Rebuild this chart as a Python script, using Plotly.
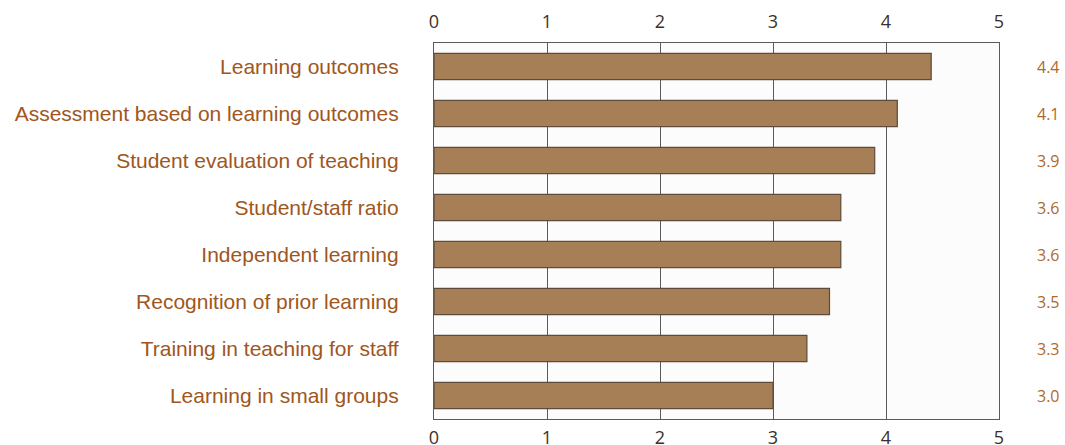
import plotly.graph_objects as go

categories = ["Learning outcomes", "Assessment based on learning outcomes",
              "Student evaluation of teaching", "Student/staff ratio",
              "Independent learning", "Recognition of prior learning",
              "Training in teaching for staff", "Learning in small groups"]
values = [4.4, 4.1, 3.9, 3.6, 3.6, 3.5, 3.3, 3.0]
value_labels = ["4.4", "4.1", "3.9", "3.6", "3.6", "3.5", "3.3", "3.0"]
tick_vals = [0, 1, 2, 3, 4, 5]

label_color = "#a0561c"
tick_color = "#3b3129"

fig = go.Figure()
fig.add_trace(go.Bar(
    x=values, y=categories, orientation="h", width=0.56,
    marker=dict(color="#a67f56", line=dict(color="#5e4b39", width=1.2)),
    hoverinfo="skip", showlegend=False,
))
# invisible trace for top axis
fig.add_trace(go.Scatter(x=[0, 5], y=[categories[0], categories[0]], xaxis="x2",
                         mode="markers", marker=dict(opacity=0), showlegend=False,
                         hoverinfo="skip"))

for c, lab in zip(categories, value_labels):
    fig.add_annotation(x=1.0, xref="paper", y=c, yref="y", text=lab,
                       showarrow=False, xanchor="left", xshift=36,
                       font=dict(family="Open Sans, Liberation Sans", size=16, color="#b0692b"))

axis_common = dict(range=[0, 5], tickvals=tick_vals, showgrid=True,
                   gridcolor="#5a5a5a", gridwidth=1, zeroline=False,
                   showline=True, linecolor="#5a5a5a", linewidth=1.2,
                   ticks="", automargin=False,
                   tickfont=dict(family="Open Sans, Liberation Sans", size=18, color=tick_color))

fig.update_layout(
    width=1065, height=445,
    margin=dict(l=434, r=66, t=43, b=26),
    paper_bgcolor="white", plot_bgcolor="#fcfcfc",
    bargap=0.45,
    xaxis=dict(**axis_common, side="bottom", ticklabelstandoff=2),
    xaxis2=dict(**axis_common, side="top", overlaying="x", matches="x", ticklabelstandoff=7),
    yaxis=dict(categoryorder="array", categoryarray=categories[::-1],
               range=[-0.5, 7.5], showgrid=False, showline=True, mirror=True,
               linecolor="#5a5a5a", linewidth=1.2, ticks="", automargin=False,
               ticklabelstandoff=30,
               tickfont=dict(family="Liberation Sans, Arial", size=21, color=label_color)),
)
fig.write_html("out.html", config={"displayModeBar": False},
               post_script="document.body.style.margin='0';")
